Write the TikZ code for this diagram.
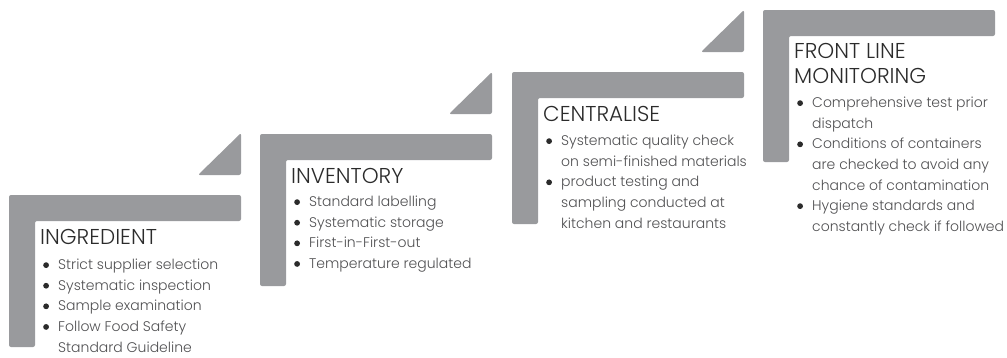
\documentclass[tikz,border=0pt]{standalone}
\usepackage{fontspec}
\setmainfont{Poppins}[UprightFont=* Light]
\usepackage{tikz}

\definecolor{stepgray}{HTML}{999A9D}
\definecolor{titlecol}{HTML}{2B2B2B}
\definecolor{bodycol}{HTML}{505052}
\newcommand{\bul}{\makebox[15pt][l]{\tikz[baseline=-4.6pt]\fill[titlecol] (2.9pt,0) circle (2.9pt);}}
\newcommand{\ind}{\hspace*{15pt}}

\begin{document}
\begin{tikzpicture}[x=1pt,y=-1pt,
	stepbar/.style={fill=stepgray, rounded corners=2pt},
	steptitle/.style={anchor=west, inner sep=0pt, text=titlecol, align=left, font=\fontsize{21.5}{25}\selectfont},
	steplist/.style={anchor=north west, inner sep=0pt, text=bodycol, align=left, font=\fontsize{14}{20.6}\selectfont}]
	\useasboundingbox (0,0) rectangle (1007,357);

	% ingredient
	\begin{scope}[shift={(9,195)}]
		\path[stepbar] (0,0) -- (232,0) -- (232,26) -- (26,26) -- (26,152) -- (0,152) -- cycle;
		\path[stepbar] (232,-62) -- (232,-20) -- (189,-20) -- cycle;
		\node[steptitle] (ingr) at (31,42) {INGREDIENT};
		\node[steplist] (ingr-list) at (34,64) {\bul Strict supplier selection\\
			\bul Systematic inspection\\
			\bul Sample examination\\
			\bul Follow Food Safety\\
			\ind Standard Guideline};
	\end{scope}

	% inventory
	\begin{scope}[shift={(260,134)}]
		\path[stepbar] (0,0) -- (232,0) -- (232,26) -- (26,26) -- (26,152) -- (0,152) -- cycle;
		\path[stepbar] (232,-62) -- (232,-20) -- (189,-20) -- cycle;
		\node[steptitle] (inv) at (31,42) {INVENTORY};
		\node[steplist] (inv-list) at (34,62) {\bul Standard labelling\\
			\bul Systematic storage\\
			\bul First-in-First-out\\
			\bul Temperature regulated};
	\end{scope}

	% centralise
	\begin{scope}[shift={(512,72)}]
		\path[stepbar] (0,0) -- (232,0) -- (232,26) -- (26,26) -- (26,152) -- (0,152) -- cycle;
		\path[stepbar] (232,-62) -- (232,-20) -- (189,-20) -- cycle;
		\node[steptitle] (cent) at (31,42) {CENTRALISE};
		\node[steplist] (cent-list) at (34,63) {\bul Systematic quality check\\
			\ind on semi-finished materials\\
			\bul product testing and\\
			\ind sampling conducted at\\
			\ind kitchen and restaurants};
	\end{scope}

	% front line monitoring
	\begin{scope}[shift={(763,10)}]
		\path[stepbar] (0,0) -- (232,0) -- (232,26) -- (26,26) -- (26,152) -- (0,152) -- cycle;
		\node[steptitle, anchor=north west] (front) at (31,33) {FRONT LINE\\MONITORING};
		\node[steplist] (front-list) at (34,87) {\bul Comprehensive test prior\\
			\ind dispatch\\
			\bul Conditions of containers\\
			\ind are checked to avoid any\\
			\ind chance of contamination\\
			\bul Hygiene standards and\\
			\ind constantly check if followed};
	\end{scope}
\end{tikzpicture}
\end{document}
